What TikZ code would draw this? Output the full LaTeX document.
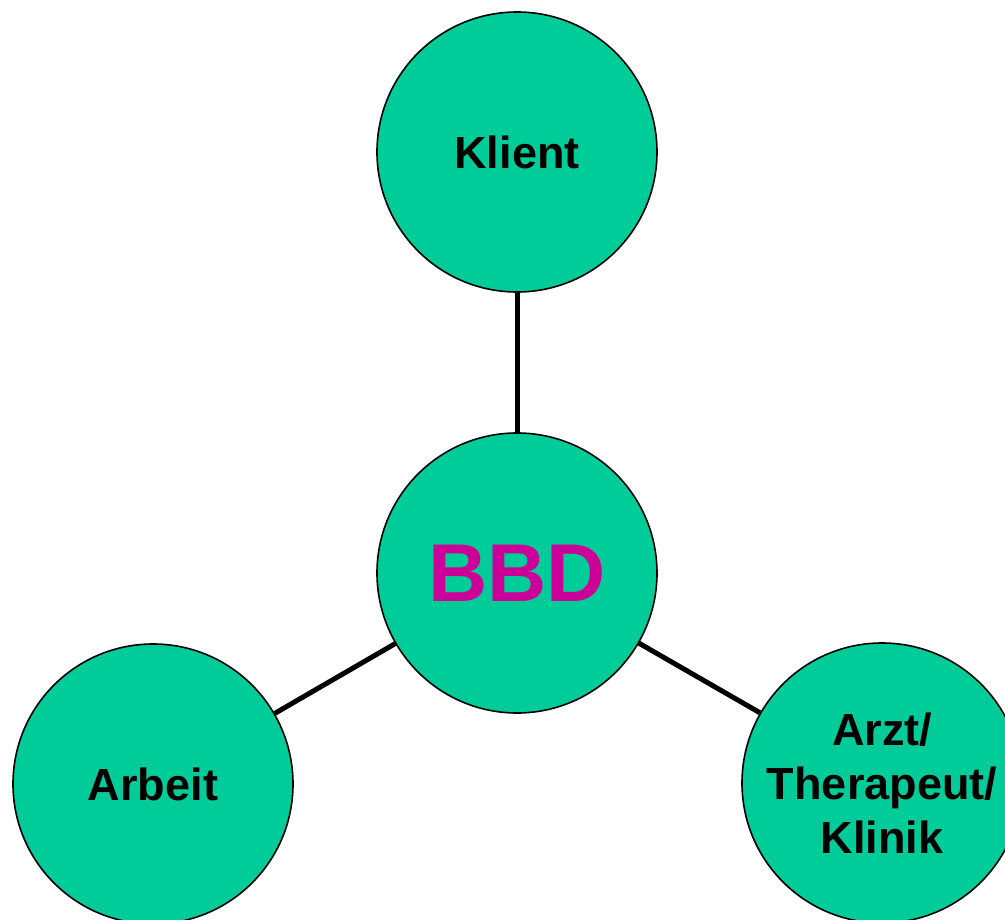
\documentclass[tikz,border=0pt]{standalone}
\usepackage{fontspec}
\setmainfont{Liberation Sans}
\definecolor{bbdgreen}{HTML}{00CC99}
\definecolor{bbdmag}{HTML}{CC0099}
\begin{document}
\begin{tikzpicture}[x=1pt,y=-1pt,
  circ/.style={circle, draw=black, line width=1.6pt, fill=bbdgreen, minimum size=280pt, inner sep=0pt,
    font=\bfseries\fontsize{45}{54}\selectfont, align=center},
  link/.style={line width=5pt}]
\useasboundingbox (0,0) rectangle (1005,920);
\node[circ] (klient) at (517,152) {Klient};
\node[circ, text=bbdmag, font=\bfseries\fontsize{82}{90}\selectfont] (bbd) at (517,573) {BBD};
\node[circ] (arbeit) at (153,784) {Arbeit};
\node[circ] (arzt) at (882,783) {Arzt/\\Therapeut/\\Klinik};
\draw[link] (bbd) -- (klient);
\draw[link] (bbd) -- (arbeit);
\draw[link] (bbd) -- (arzt);
\end{tikzpicture}
\end{document}
